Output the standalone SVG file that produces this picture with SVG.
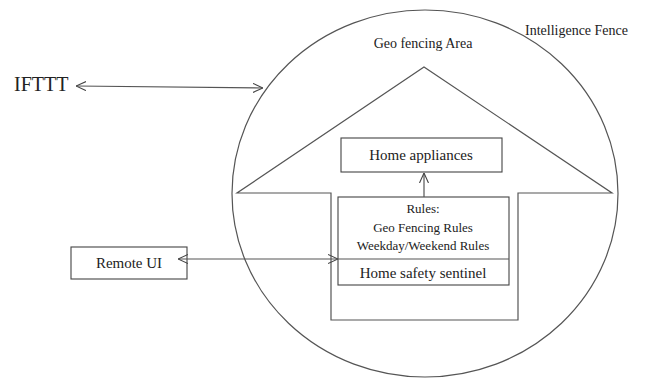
<svg xmlns="http://www.w3.org/2000/svg" width="656" height="380" viewBox="0 0 656 380">
<defs>
<marker id="ah" viewBox="0 0 10 10" refX="10" refY="5" markerWidth="10" markerHeight="10" markerUnits="userSpaceOnUse" orient="auto-start-reverse">
<path d="M0,0.5 L10,5 L0,9.5" fill="none" stroke="#444" stroke-width="1.1"/>
</marker>
<style>
.ln{fill:none;stroke:#555;stroke-width:1.2}
.bx{fill:#fff;stroke:#444;stroke-width:1.1}
.t{font-family:"Liberation Serif","Times New Roman",serif;fill:#222}
.c{text-anchor:middle}
</style>
</defs>
<rect width="656" height="380" fill="#fff"/>
<g id="fence">
<ellipse class="ln" cx="425" cy="193.5" rx="193" ry="183.5"/>
<text class="t" x="525" y="35" font-size="14">Intelligence Fence</text>
<text class="t c" x="423" y="48" font-size="14">Geo fencing Area</text>
</g>
<g id="house">
<path class="ln" d="M331,193 L237,193 L424,67 L612,193 L518,193 L518,320 L331,320 Z" stroke-width="1"/>
</g>
<g id="ifttt">
<text class="t" x="14" y="91" font-size="20">IFTTT</text>
</g>
<g id="appliances">
<rect class="bx" x="341" y="138" width="161" height="34"/>
<text class="t c" x="421" y="160" font-size="15">Home appliances</text>
</g>
<g id="sentinel">
<rect class="bx" x="338" y="197" width="171" height="88"/>
<line class="ln" x1="338" y1="259" x2="509" y2="259" stroke="#444"/>
<text class="t c" x="423" y="213" font-size="13">Rules:</text>
<text class="t c" x="423" y="232" font-size="13">Geo Fencing Rules</text>
<text class="t c" x="423" y="250" font-size="13">Weekday/Weekend Rules</text>
<text class="t c" x="423" y="278" font-size="15">Home safety sentinel</text>
</g>
<g id="remote">
<rect class="bx" x="71" y="247" width="116" height="32"/>
<text class="t c" x="129" y="268" font-size="15">Remote UI</text>
</g>
<g id="connectors">
<line class="ln" stroke="#444" x1="76" y1="86" x2="263" y2="88" marker-start="url(#ah)" marker-end="url(#ah)"/>
<line class="ln" stroke="#444" x1="178" y1="259" x2="338" y2="259" marker-start="url(#ah)" marker-end="url(#ah)"/>
<line class="ln" stroke="#444" x1="424" y1="197" x2="424" y2="173" marker-end="url(#ah)"/>
</g>
</svg>
